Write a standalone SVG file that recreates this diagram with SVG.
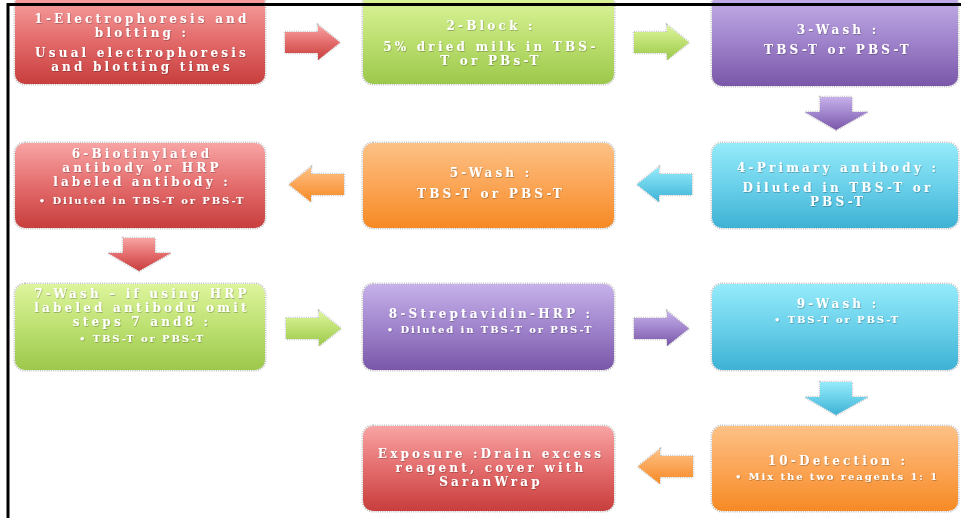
<svg xmlns="http://www.w3.org/2000/svg" width="961" height="518" viewBox="0 0 961 518">
<defs>
<linearGradient id="gRed" x1="0" y1="0" x2="0" y2="1"><stop offset="0" stop-color="#f8a4a4"/><stop offset="0.5" stop-color="#e46c6c"/><stop offset="1" stop-color="#c73e3d"/></linearGradient>
<linearGradient id="gGreen" x1="0" y1="0" x2="0" y2="1"><stop offset="0" stop-color="#ddf59c"/><stop offset="0.5" stop-color="#bde071"/><stop offset="1" stop-color="#9cc84b"/></linearGradient>
<linearGradient id="gPurple" x1="0" y1="0" x2="0" y2="1"><stop offset="0" stop-color="#c6b1ea"/><stop offset="0.5" stop-color="#a084cc"/><stop offset="1" stop-color="#7a57a9"/></linearGradient>
<linearGradient id="gOrange" x1="0" y1="0" x2="0" y2="1"><stop offset="0" stop-color="#fcc185"/><stop offset="0.5" stop-color="#fba556"/><stop offset="1" stop-color="#f68a24"/></linearGradient>
<linearGradient id="gBlue" x1="0" y1="0" x2="0" y2="1"><stop offset="0" stop-color="#95ebfa"/><stop offset="0.5" stop-color="#6ad0ea"/><stop offset="1" stop-color="#3eb2d5"/></linearGradient>
<filter id="ts" x="-10%" y="-30%" width="120%" height="160%"><feDropShadow dx="0.6" dy="0.8" stdDeviation="0.6" flood-color="#000" flood-opacity="0.3"/></filter>
<path id="arR" d="M0,7 H33 V0 L55,17.5 L33,35 V28 H0 Z"/>
<path id="arL" d="M55,7 H22 V0 L0,17.5 L22,35 V28 H55 Z"/>
<path id="arD" d="M15,0 H47 V15 H63 L31,33 L0,15 H15 Z"/>
</defs>
<style>
.sh{fill:none;stroke:#8a8a8a;stroke-width:3;stroke-dasharray:1 1.2;opacity:0.55}
.ash{fill:none;stroke:#8a8a8a;stroke-width:2.5;stroke-dasharray:1 1.2;opacity:0.5}
text{font-family:"DejaVu Serif","Liberation Serif",serif;font-weight:bold;fill:#fff;text-anchor:middle}
.t{font-size:12px;letter-spacing:3.2px}
.s{font-size:10px;letter-spacing:1.9px}
.tx{filter:url(#ts)}
.frame{fill:none;stroke:#000;stroke-width:3}
</style>
<rect width="961" height="518" fill="#fff"/>

<g id="connectors">
<g><use href="#arR" class="ash" transform="translate(285,25)"/><use href="#arR" fill="url(#gRed)" transform="translate(285,25)"/></g>
<g><use href="#arR" class="ash" transform="translate(634,25)"/><use href="#arR" fill="url(#gGreen)" transform="translate(634,25)"/></g>
<g><use href="#arD" class="ash" transform="translate(805,97)"/><use href="#arD" fill="url(#gPurple)" transform="translate(805,97)"/></g>
<g><use href="#arL" class="ash" transform="translate(637,167)"/><use href="#arL" fill="url(#gBlue)" transform="translate(637,167)"/></g>
<g><use href="#arL" class="ash" transform="translate(289,167)"/><use href="#arL" fill="url(#gOrange)" transform="translate(289,167)"/></g>
<g><use href="#arD" class="ash" transform="translate(108,238)"/><use href="#arD" fill="url(#gRed)" transform="translate(108,238)"/></g>
<g><use href="#arR" class="ash" transform="translate(286,311)"/><use href="#arR" fill="url(#gGreen)" transform="translate(286,311)"/></g>
<g><use href="#arR" class="ash" transform="translate(634,311)"/><use href="#arR" fill="url(#gPurple)" transform="translate(634,311)"/></g>
<g><use href="#arD" class="ash" transform="translate(805,382)"/><use href="#arD" fill="url(#gBlue)" transform="translate(805,382)"/></g>
<g><use href="#arL" class="ash" transform="translate(638,449)"/><use href="#arL" fill="url(#gOrange)" transform="translate(638,449)"/></g>
</g>

<g id="n1">
<rect class="sh" x="15" y="-6" width="250" height="90" rx="10"/>
<rect x="15" y="-6" width="250" height="90" rx="10" fill="url(#gRed)"/>
<g class="tx"><text class="t" x="142" y="23">1-Electrophoresis and</text><text class="t" x="142" y="37">blotting :</text><text class="t" x="142" y="57">Usual electrophoresis</text><text class="t" x="142" y="71">and blotting times</text></g>
</g>
<g id="n2">
<rect class="sh" x="363" y="-6" width="251" height="90" rx="10"/>
<rect x="363" y="-6" width="251" height="90" rx="10" fill="url(#gGreen)"/>
<g class="tx"><text class="t" x="491" y="30">2-Block :</text><text class="t" x="491" y="51">5% dried milk in TBS-</text><text class="t" x="491" y="65">T or PBs-T</text></g>
</g>
<g id="n3">
<rect class="sh" x="712" y="-6" width="246" height="92" rx="10"/>
<rect x="712" y="-6" width="246" height="92" rx="10" fill="url(#gPurple)"/>
<g class="tx"><text class="t" x="838" y="34">3-Wash :</text><text class="t" x="838" y="54">TBS-T or PBS-T</text></g>
</g>
<g id="n4">
<rect class="sh" x="712" y="143" width="246" height="85" rx="10"/>
<rect x="712" y="143" width="246" height="85" rx="10" fill="url(#gBlue)"/>
<g class="tx"><text class="t" x="838" y="172">4-Primary antibody :</text><text class="t" x="838" y="192">Diluted in TBS-T or</text><text class="t" x="838" y="206">PBS-T</text></g>
</g>
<g id="n5">
<rect class="sh" x="363" y="143" width="251" height="85" rx="10"/>
<rect x="363" y="143" width="251" height="85" rx="10" fill="url(#gOrange)"/>
<g class="tx"><text class="t" x="491" y="177">5-Wash :</text><text class="t" x="491" y="198">TBS-T or PBS-T</text></g>
</g>
<g id="n6">
<rect class="sh" x="15" y="143" width="250" height="85" rx="10"/>
<rect x="15" y="143" width="250" height="85" rx="10" fill="url(#gRed)"/>
<g class="tx"><text class="t" x="142" y="158">6-Biotinylated</text><text class="t" x="142" y="172">antibody or HRP</text><text class="t" x="142" y="186">labeled antibody :</text><text class="s" x="142" y="204">• Diluted in TBS-T or PBS-T</text></g>
</g>
<g id="n7">
<rect class="sh" x="15" y="284" width="250" height="86" rx="10"/>
<rect x="15" y="284" width="250" height="86" rx="10" fill="url(#gGreen)"/>
<g class="tx"><text class="t" x="142" y="298">7-Wash – if using HRP</text><text class="t" x="142" y="312">labeled antibodu omit</text><text class="t" x="142" y="326">steps 7 and8 :</text><text class="s" x="142" y="342">• TBS-T or PBS-T</text></g>
</g>
<g id="n8">
<rect class="sh" x="363" y="284" width="251" height="86" rx="10"/>
<rect x="363" y="284" width="251" height="86" rx="10" fill="url(#gPurple)"/>
<g class="tx"><text class="t" x="491" y="318">8-Streptavidin-HRP :</text><text class="s" x="490" y="333">• Diluted in TBS-T or PBS-T</text></g>
</g>
<g id="n9">
<rect class="sh" x="712" y="284" width="246" height="86" rx="10"/>
<rect x="712" y="284" width="246" height="86" rx="10" fill="url(#gBlue)"/>
<g class="tx"><text class="t" x="838" y="308">9-Wash :</text><text class="s" x="837" y="323">• TBS-T or PBS-T</text></g>
</g>
<g id="n10">
<rect class="sh" x="712" y="426" width="246" height="85" rx="10"/>
<rect x="712" y="426" width="246" height="85" rx="10" fill="url(#gOrange)"/>
<g class="tx"><text class="t" x="838" y="465">10-Detection :</text><text class="s" x="837" y="480">• Mix the two reagents 1: 1</text></g>
</g>
<g id="n11">
<rect class="sh" x="363" y="426" width="251" height="85" rx="10"/>
<rect x="363" y="426" width="251" height="85" rx="10" fill="url(#gRed)"/>
<g class="tx"><text class="t" x="491" y="458">Exposure :Drain excess</text><text class="t" x="491" y="472">reagent, cover with</text><text class="t" x="491" y="486">SaranWrap</text></g>
</g>

<path class="frame" d="M8,518 V4.5 H961"/>
</svg>
